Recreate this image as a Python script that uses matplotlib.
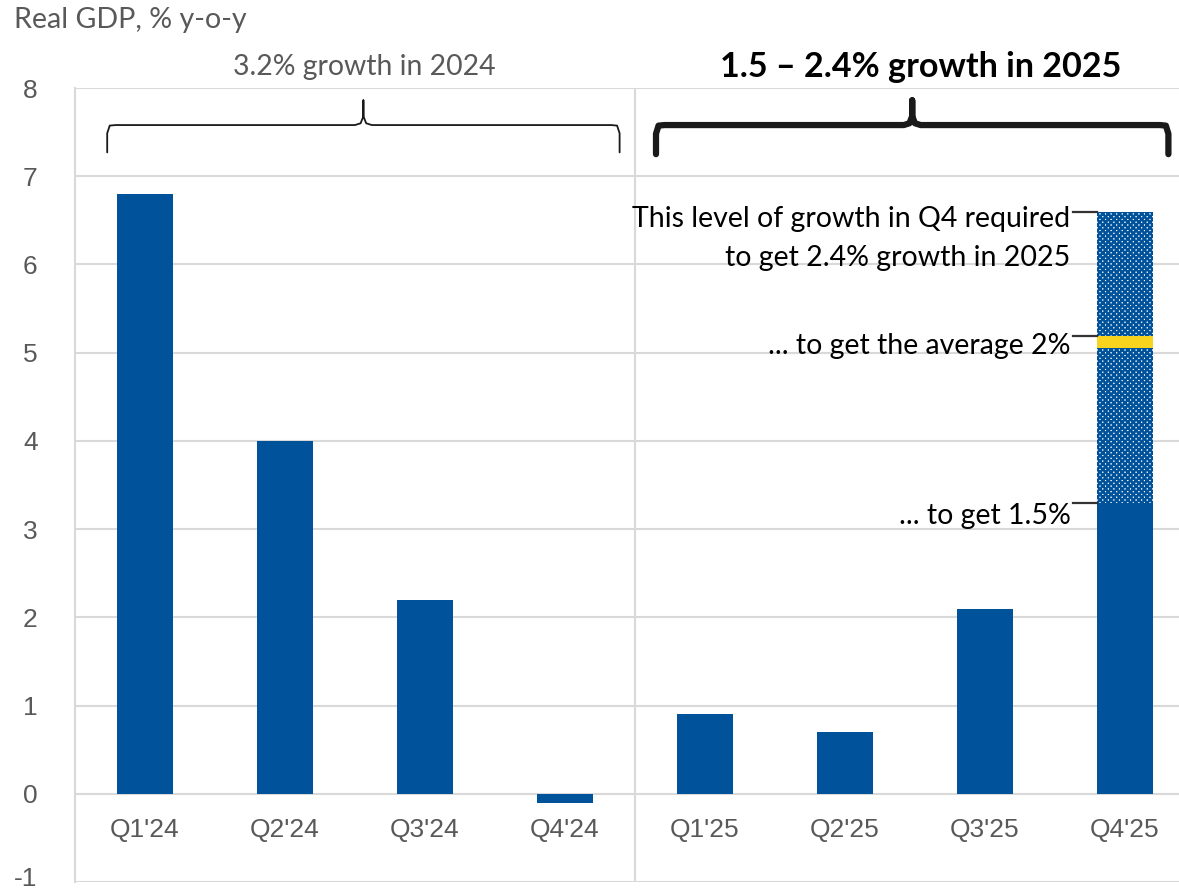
import matplotlib
matplotlib.use("Agg")
import matplotlib.pyplot as plt
import matplotlib.transforms as mtransforms
import numpy as np

quarters = ["Q1'24", "Q2'24", "Q3'24", "Q4'24", "Q1'25", "Q2'25", "Q3'25", "Q4'25"]
growth = [6.8, 4.0, 2.2, -0.1, 0.9, 0.7, 2.1, 3.3]
y_ticks = [-1, 0, 1, 2, 3, 4, 5, 6, 7, 8]

# Q4'25 scenarios: level needed for 1.5%, 2% (average) and 2.4% annual growth
q4_low = 3.3
q4_avg = 5.12
q4_high = 6.6

BLUE = "#00529B"
YELLOW = "#F9D41E"
GREY = "#595959"
GRID = "#D9D9D9"

plt.rcParams["font.family"] = ["Lato", "DejaVu Sans"]
plt.rcParams["hatch.color"] = BLUE
plt.rcParams["hatch.linewidth"] = 1.8

fig = plt.figure(figsize=(11.79, 8.93), dpi=100)
ax = fig.add_axes([75 / 1179, 1 - 882 / 893, 1120 / 1179, 794 / 893])

x = np.arange(len(quarters))
ax.bar(x, growth, width=0.4, color=BLUE, zorder=3)

# hatched range on top of the last bar, with the 2% marker band
last = x[-1]
ax.bar(last, q4_high - q4_low, bottom=q4_low, width=0.4, facecolor="white",
       edgecolor=BLUE, hatch="xxxxxx", linewidth=0, zorder=3)
ax.bar(last, 0.13, bottom=q4_avg - 0.065, width=0.4, color=YELLOW, zorder=4)

ax.set_xlim(-0.5, 7.5)
ax.set_ylim(-1, 8)
ax.set_yticks(y_ticks)
ax.set_yticklabels([str(t) for t in y_ticks])
ax.yaxis.grid(True, color=GRID, linewidth=1.5, zorder=0)
ax.axvline(3.5, color=GRID, linewidth=1.5, zorder=1)
ax.tick_params(axis="y", length=0, pad=27, labelsize=19, labelcolor=GREY)
for lbl in ax.get_yticklabels():
    lbl.set_family(["Liberation Sans", "DejaVu Sans"])
# lift the bottom label a little so it stays inside the figure
lift = mtransforms.ScaledTranslation(0, 6 / 100, fig.dpi_scale_trans)
ax.get_yticklabels()[0].set_transform(ax.get_yticklabels()[0].get_transform() + lift)
ax.set_xticks([])
for side in ["top", "right", "bottom"]:
    ax.spines[side].set_visible(False)
ax.spines["left"].set_color(GRID)
ax.spines["left"].set_linewidth(1.5)

for xi, q in zip(x, quarters):
    ax.text(xi, -0.41, q, ha="center", va="center", fontsize=19, color=GREY,
            family=["Liberation Sans", "DejaVu Sans"])


def brace(x0, x1, y_tip, y_mid, y_end, lw):
    xm = (x0 + x1) / 2
    r = 0.06
    h = y_mid - y_end
    xs = [x0, x0, x0 + r * 0.3, x0 + r, xm - r, xm - 0.02, xm, xm,
          xm, xm + 0.02, xm + r, x1 - r, x1 - r * 0.3, x1, x1]
    ys = [y_end, y_mid - h * 0.3, y_mid - h * 0.02, y_mid, y_mid, y_mid + 0.02,
          y_mid + 0.1, y_tip, y_mid + 0.1, y_mid + 0.02, y_mid, y_mid,
          y_mid - h * 0.02, y_mid - h * 0.3, y_end]
    ax.plot(xs, ys, color="#1A1A1A", lw=lw, solid_capstyle="round",
            solid_joinstyle="round", zorder=5, clip_on=False)


brace(-0.27, 3.39, 7.86, 7.58, 7.27, 1.3)
brace(3.65, 7.31, 7.86, 7.58, 7.25, 4.5)

ax.text(1.57, 8.24, "3.2% growth in 2024", ha="center", va="center",
        fontsize=20.4, color=GREY, clip_on=False)
ax.text(5.54, 8.24, "1.5 – 2.4% growth in 2025", ha="center", va="center",
        fontsize=24.6, fontweight="bold", color="black", clip_on=False)

# leader lines and notes for the Q4'25 scenarios
lx0, lx1 = last - 0.37, last - 0.2
for yv in [q4_high, q4_avg + 0.065, q4_low]:
    ax.plot([lx0, lx1], [yv, yv], color="#333333", lw=1.6, zorder=5)
tx = last - 0.39
fs = 20.5
ax.text(tx, q4_high - 0.09, "This level of growth in Q4 required", ha="right",
        va="center", fontsize=fs, color="black")
ax.text(tx, q4_high - 0.53, "to get 2.4% growth in 2025", ha="right",
        va="center", fontsize=fs, color="black")
ax.text(tx, q4_avg - 0.04, "... to get the average 2%", ha="right",
        va="center", fontsize=fs, color="black")
ax.text(tx, q4_low - 0.15, "... to get 1.5%", ha="right",
        va="center", fontsize=fs, color="black")

fig.text(14 / 1179, 1 - 20 / 893, "Real GDP, % y-o-y", ha="left", va="center",
         fontsize=20.6, color=GREY)

fig.savefig("out.png", dpi=100)
